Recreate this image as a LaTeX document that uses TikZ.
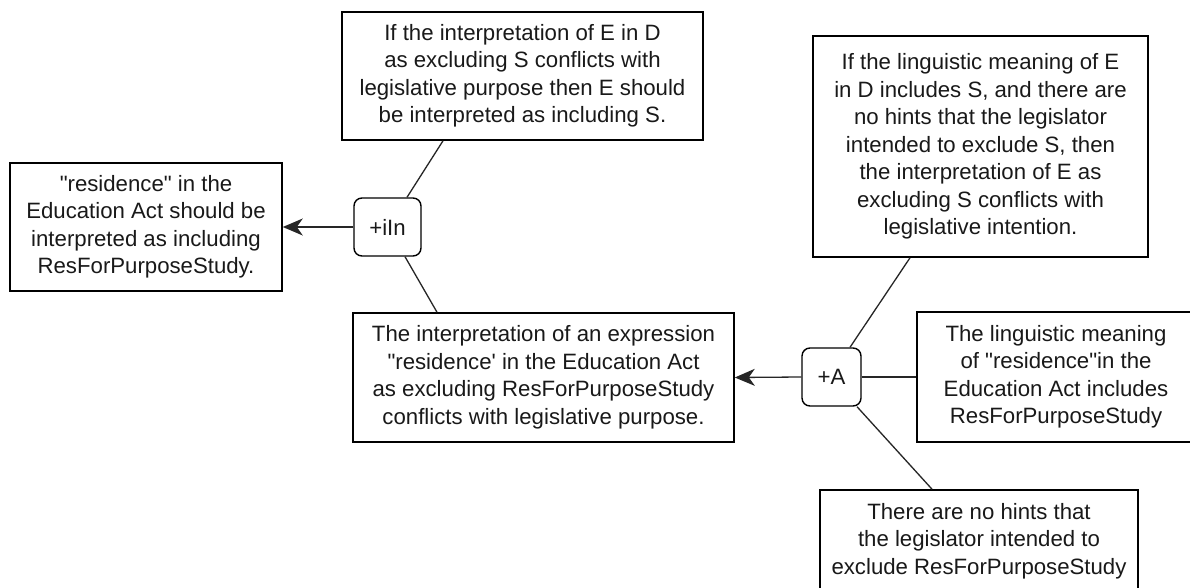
\documentclass[tikz,border=0pt]{standalone}
\usepackage{fontspec}
\setmainfont{Liberation Sans}[Ligatures=TeXOff]
\usetikzlibrary{arrows.meta}
\begin{document}
\begin{tikzpicture}[x=1pt,y=-1pt,
  txtbox/.style={draw, line width=1.6pt, inner sep=0pt, align=center,
    font=\fontsize{22.2}{27.5}\selectfont, text=black!90},
  opnode/.style={draw, line width=1.4pt, rounded corners=8pt, inner sep=0pt,
    font=\fontsize{22.2}{27.5}\selectfont, text=black!90},
  conn/.style={line width=1.3pt, draw=black!85},
  arr/.style={conn, -{Stealth[length=20pt,width=17pt,inset=6pt]}}]
\clip (0,0) rectangle (1190,588);
\fill[white] (0,0) rectangle (1190,588);

\node[txtbox, minimum width=272pt, minimum height=128pt] (concl) at (146,227)
  {"residence" in the\\Education Act should be\\interpreted as including\\ResForPurposeStudy.};
\node[txtbox, minimum width=361pt, minimum height=128pt] (rule1) at (522.5,76)
  {If the interpretation of E in D\\as excluding S conflicts with\\legislative purpose then E should\\be interpreted as including S.};
\node[txtbox, minimum width=381pt, minimum height=129pt] (mid) at (543.5,377.5)
  {The interpretation of an expression\\"residence' in the Education Act\\as excluding ResForPurposeStudy\\conflicts with legislative purpose.};
\node[txtbox, minimum width=335pt, minimum height=221pt] (rule2) at (980.5,146.5)
  {If the linguistic meaning of E\\in D includes S, and there are\\no hints that the legislator\\intended to exclude S, then\\the interpretation of E as\\excluding S conflicts with\\legislative intention.};
\node[txtbox, minimum width=278pt, minimum height=130pt] (ling) at (1056,377)
  {The linguistic meaning\\of "residence"in the\\Education Act includes\\ResForPurposeStudy};
\node[txtbox, minimum width=318pt, minimum height=102pt] (hints) at (979,541)
  {There are no hints that\\the legislator intended to\\exclude ResForPurposeStudy};

\node[opnode, minimum width=67pt, minimum height=58pt] (iIn) at (387.5,227) {+iIn};
\node[opnode, minimum width=59pt, minimum height=58pt] (A) at (831.5,377) {+A};

\draw[arr] (iIn.west) -- (concl.east);
\draw[conn] ([xshift=19.5pt]iIn.north) -- ([xshift=-79.5pt]rule1.south);
\draw[conn] ([xshift=17.5pt]iIn.south) -- ([xshift=-106.5pt]mid.north);
\draw[arr] (A.west) -- (mid.east);
\draw[conn] ([xshift=18.5pt]A.north) -- ([xshift=-70.5pt]rule2.south);
\draw[conn] (A.east) -- (ling.west);
\draw[conn] ([xshift=25.5pt]A.south) -- ([xshift=-47pt]hints.north);
\end{tikzpicture}
\end{document}
